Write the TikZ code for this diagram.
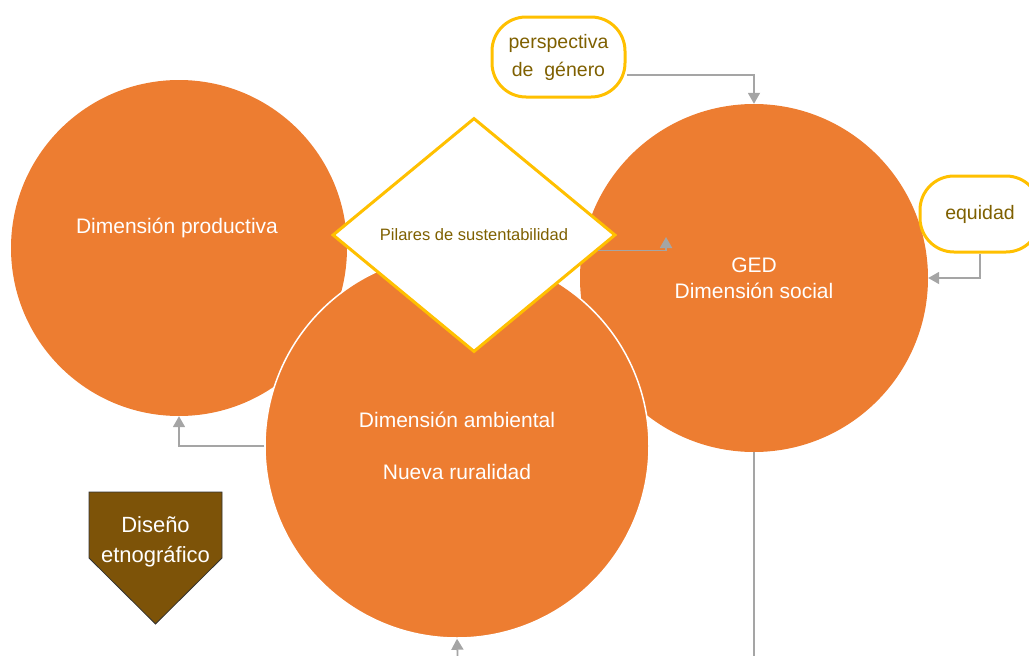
\documentclass[tikz,border=0pt]{standalone}
\usepackage{fontspec}
\setmainfont{Liberation Sans}
\usetikzlibrary{shapes.geometric,arrows.meta,calc}
\definecolor{orng}{HTML}{ED7D31}
\definecolor{gold}{HTML}{FFC000}
\definecolor{olive}{HTML}{7F6000}
\definecolor{brn}{RGB}{125,83,8}
\definecolor{conn}{HTML}{A5A5A5}
\begin{document}
\begin{tikzpicture}[x=1pt,y=-1pt,
 circ/.style={circle,fill=orng,draw=none,inner sep=0pt,text=white,align=center,font=\fontsize{21}{26}\selectfont},
 gbox/.style={rectangle,rounded corners=34pt,draw=gold,line width=3pt,fill=white,text=olive,align=center,inner sep=0pt,font=\fontsize{19.5}{28}\selectfont},
 link/.style={draw=conn,line width=1.8pt,-{Triangle[width=12pt,length=11pt]}},
 plain/.style={draw=conn,line width=1.8pt},
]
\useasboundingbox (0,0) rectangle (1029,656);
% circles
\node[circ,minimum size=336pt] (prod) at (179,248) {};
\node[text=white,font=\fontsize{21}{26}\selectfont] (prodt) at (177,228) {Dimensión productiva};
\node[circ,minimum size=348pt] (ged) at (754,278) {GED\\Dimensión social};
\node[circ,minimum size=384pt,draw=white,line width=1.5pt] (amb) at (457,446) {Dimensión ambiental\\[26pt]Nueva ruralidad};
% diamond
\node[diamond,draw=gold,line width=3pt,fill=white,minimum width=283pt,minimum height=234pt,inner sep=0pt,text=olive,font=\fontsize{16.5}{20}\selectfont] (dia) at (474,235) {Pilares de sustentabilidad};
% boxes
\node[gbox,minimum width=133pt,minimum height=80pt] (pg) at (558.5,57) {perspectiva\\de~ género};
\node[gbox,minimum width=120pt,minimum height=76pt] (eq) at (980,214) {equidad};
% Diseño etnográfico
\draw[fill=brn,draw=black!80,line width=0.8pt] (89,492) -- (222,492) -- (222,558) -- (155.5,624) -- (89,558) -- cycle;
\node[text=white,align=center,font=\fontsize{22}{30}\selectfont] (dis) at (155.5,542) {Diseño\\etnográfico};
% connectors
\coordinate (gin) at (666,237);
\coordinate (bot) at (458,668);
\coordinate (gbot) at (754,668);
\draw[link] ([yshift=-18pt]pg.east) -| (ged.north);
\draw[link] (eq.south) |- (ged.east);
\draw[link] ($(dia.east)!0.13!(dia.south)$) -| (gin);
\draw[link] (amb.west) -| (prod.south);
\draw[link] (bot) -- (amb.south);
\draw[plain] (ged.south) -- (gbot);
\end{tikzpicture}
\end{document}
